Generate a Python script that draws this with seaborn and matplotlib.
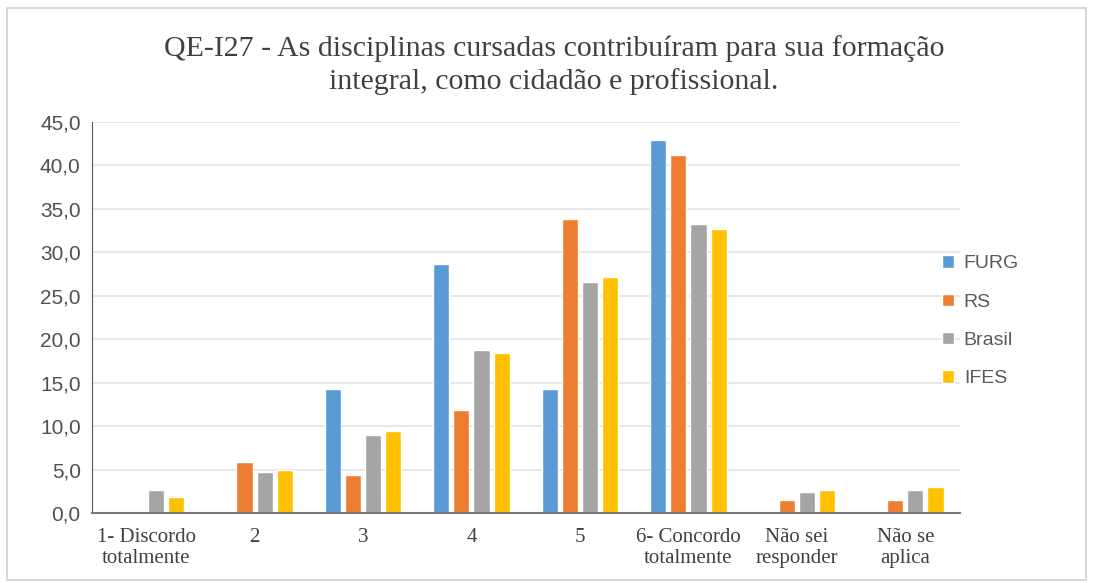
import pandas as pd
import matplotlib.pyplot as plt
import seaborn as sns
from matplotlib.ticker import FuncFormatter
from matplotlib.patches import Rectangle

# dados
categorias = ["1- Discordo\ntotalmente", "2", "3", "4", "5",
              "6- Concordo\ntotalmente", "Não sei\nresponder", "Não se\naplica"]
furg = [0.0, 0.0, 14.3, 28.6, 14.3, 42.9, 0.0, 0.0]
rs = [0.0, 5.9, 4.4, 11.8, 33.8, 41.2, 1.5, 1.5]
brasil = [2.6, 4.7, 9.0, 18.7, 26.6, 33.3, 2.4, 2.7]
ifes = [1.9, 5.0, 9.4, 18.4, 27.1, 32.7, 2.7, 3.0]
series = ["FURG", "RS", "Brasil", "IFES"]
cores = ["#5B9BD5", "#ED7D31", "#A5A5A5", "#FFC000"]

df = pd.DataFrame({"Categoria": categorias, "FURG": furg, "RS": rs,
                   "Brasil": brasil, "IFES": ifes})
long_df = df.melt(id_vars="Categoria", var_name="Serie", value_name="Valor")

sns.set_style("white")
plt.rcParams["font.family"] = ["Liberation Serif", "DejaVu Serif"]

fig = plt.figure(figsize=(10.93, 5.83), dpi=100)
ax = fig.add_axes([0.084, 0.12, 0.794, 0.671])

sns.barplot(data=long_df, x="Categoria", y="Valor", hue="Serie",
            hue_order=series, palette=cores, width=0.74, gap=0.2,
            saturation=1, ax=ax)

ax.set_ylim(0, 45)
ax.set_yticks(range(0, 50, 5))
ax.yaxis.set_major_formatter(FuncFormatter(lambda v, p: f"{v:.1f}".replace(".", ",")))
ax.grid(axis="y", color="#E3E3E3", linewidth=1.2)
ax.set_axisbelow(True)
for s in ["top", "right"]:
    ax.spines[s].set_visible(False)
ax.spines["left"].set_color("#555555")
ax.spines["bottom"].set_color("#777777")
ax.spines["bottom"].set_linewidth(1.5)
ax.set_xlabel("")
ax.set_ylabel("")
ax.tick_params(axis="x", length=0, labelsize=15, colors="#404040", pad=11)
ax.tick_params(axis="y", length=0, colors="#505050", pad=8)
for lbl in ax.get_yticklabels():
    lbl.set_fontfamily("Liberation Sans")
    lbl.set_fontsize(15)
for lbl in ax.get_xticklabels():
    lbl.set_linespacing(1.15)

fig.suptitle("QE-I27 - As disciplinas cursadas contribuíram para sua formação\nintegral, como cidadão e profissional.",
             x=0.507, y=0.94, fontsize=21.5, color="#404040", linespacing=1.3)

leg = ax.legend(loc="center left", bbox_to_anchor=(0.96, 0.49), frameon=False,
                prop={"family": "Liberation Sans", "size": 14},
                handlelength=0.6, handleheight=0.6, labelspacing=1.1,
                handletextpad=0.5)
for t in leg.get_texts():
    t.set_color("#595959")

# moldura do gráfico
fig.patches.append(Rectangle((0.006, 0.006), 0.988, 0.98, transform=fig.transFigure,
                             fill=False, edgecolor="#D0D0D0", linewidth=1.2))

fig.savefig("out.png", dpi=100)
